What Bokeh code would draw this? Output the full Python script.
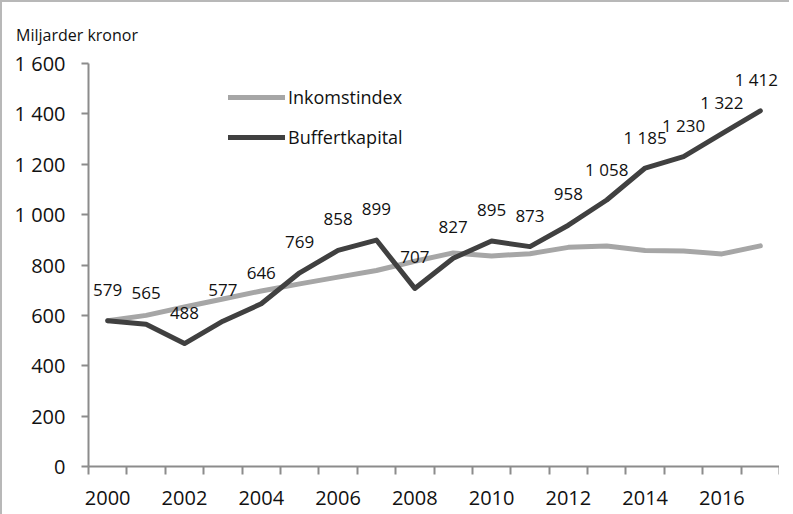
from bokeh.plotting import figure
from bokeh.models import FixedTicker, Legend, LegendItem, LabelSet, ColumnDataSource, Div
from bokeh.layouts import column
from bokeh.core.properties import value
from bokeh.embed import file_html
from bokeh.resources import INLINE

years = list(range(2000, 2018))
inkomstindex = [579, 600, 633, 665, 697, 725, 752, 778, 815, 848, 836, 845, 870, 875, 858, 856, 844, 876]
buffertkapital = [579, 565, 488, 577, 646, 769, 858, 899, 707, 827, 895, 873, 958, 1058, 1185, 1230, 1322, 1412]
y_ticks = [0, 200, 400, 600, 800, 1000, 1200, 1400, 1600]
x_label_years = list(range(2000, 2017, 2))
series_names = ["Inkomstindex", "Buffertkapital"]
y_title = "Miljarder kronor"

FONT = "Open Sans"
AXIS_COLOR = "#8c8c8c"
TEXT_COLOR = "#111111"

def fmt(v):
    return f"{v:,}".replace(",", " ")

W = 777
DIV_H = 37
BL, BR, BT, BB = 86, 0, 14, 50
H = BT + 403 + BB

head = Div(text=y_title, width=W, height=DIV_H,
           styles={"font-family": FONT, "font-size": "16px", "color": TEXT_COLOR,
                   "line-height": "18px", "padding-left": "9px", "padding-top": "19px",
                   "box-sizing": "border-box", "white-space": "nowrap"})

p = figure(width=W, height=H, output_backend="svg", toolbar_location=None,
           x_range=(years[0] - 0.5, years[-1] + 0.5), y_range=(0, 1600),
           min_border_left=BL, min_border_right=BR, min_border_top=BT, min_border_bottom=BB,
           tools="")
p.outline_line_color = None
p.xgrid.visible = False
p.ygrid.visible = False
p.background_fill_color = "white"

l1 = p.line(years, inkomstindex, line_color="#a6a6a6", line_width=5, line_join="round", line_cap="round")
l2 = p.line(years, buffertkapital, line_color="#404040", line_width=5, line_join="round", line_cap="round")

# data labels above the Buffertkapital points; the last one nudged left to stay inside the frame
src = ColumnDataSource(dict(x=years, y=buffertkapital, t=[fmt(v) for v in buffertkapital],
                            dx=[0] * (len(years) - 1) + [-4]))
p.add_layout(LabelSet(x="x", y="y", text="t", source=src, text_align="center",
                      text_baseline="middle", x_offset="dx", y_offset=31,
                      text_font_size=value("17px"), text_font=value(FONT),
                      text_color=value(TEXT_COLOR)))

# x axis: ticks between categories, labels at centres
xa = p.xaxis[0]
xa.ticker = FixedTicker(ticks=x_label_years, minor_ticks=[y - 0.5 for y in years] + [years[-1] + 0.5])
xa.major_tick_line_color = None
xa.major_tick_out = 0
xa.major_tick_in = 0
xa.minor_tick_out = 8
xa.minor_tick_in = 0
xa.minor_tick_line_color = AXIS_COLOR
xa.minor_tick_line_width = 2
xa.axis_line_color = AXIS_COLOR
xa.axis_line_width = 2
xa.major_label_text_font_size = "20px"
xa.major_label_text_font = FONT
xa.major_label_text_color = TEXT_COLOR
xa.major_label_standoff = 16

ya = p.yaxis[0]
ya.ticker = FixedTicker(ticks=y_ticks)
ya.major_label_overrides = {v: fmt(v) for v in y_ticks}
ya.minor_tick_line_color = None
ya.major_tick_out = 7
ya.major_tick_in = 0
ya.major_tick_line_color = AXIS_COLOR
ya.major_tick_line_width = 2
ya.axis_line_color = AXIS_COLOR
ya.axis_line_width = 2
ya.major_label_text_font_size = "20px"
ya.major_label_text_font = FONT
ya.major_label_text_color = TEXT_COLOR
ya.major_label_standoff = 16

legend = Legend(items=[LegendItem(label=series_names[0], renderers=[l1]),
                       LegendItem(label=series_names[1], renderers=[l2])],
                location=(140, 317), orientation="vertical",
                glyph_width=57, glyph_height=20, label_height=20, spacing=16,
                padding=0, margin=0, label_standoff=3,
                label_text_font_size="18px", label_text_font=FONT, label_text_color=TEXT_COLOR,
                border_line_color=None, background_fill_alpha=0)
p.add_layout(legend)

layout = column(head, p, spacing=0)
layout.styles = {"border-top": "2px solid #b8b8b8", "border-left": "2px solid #b8b8b8"}

open("out.html", "w").write(file_html(layout, INLINE))
